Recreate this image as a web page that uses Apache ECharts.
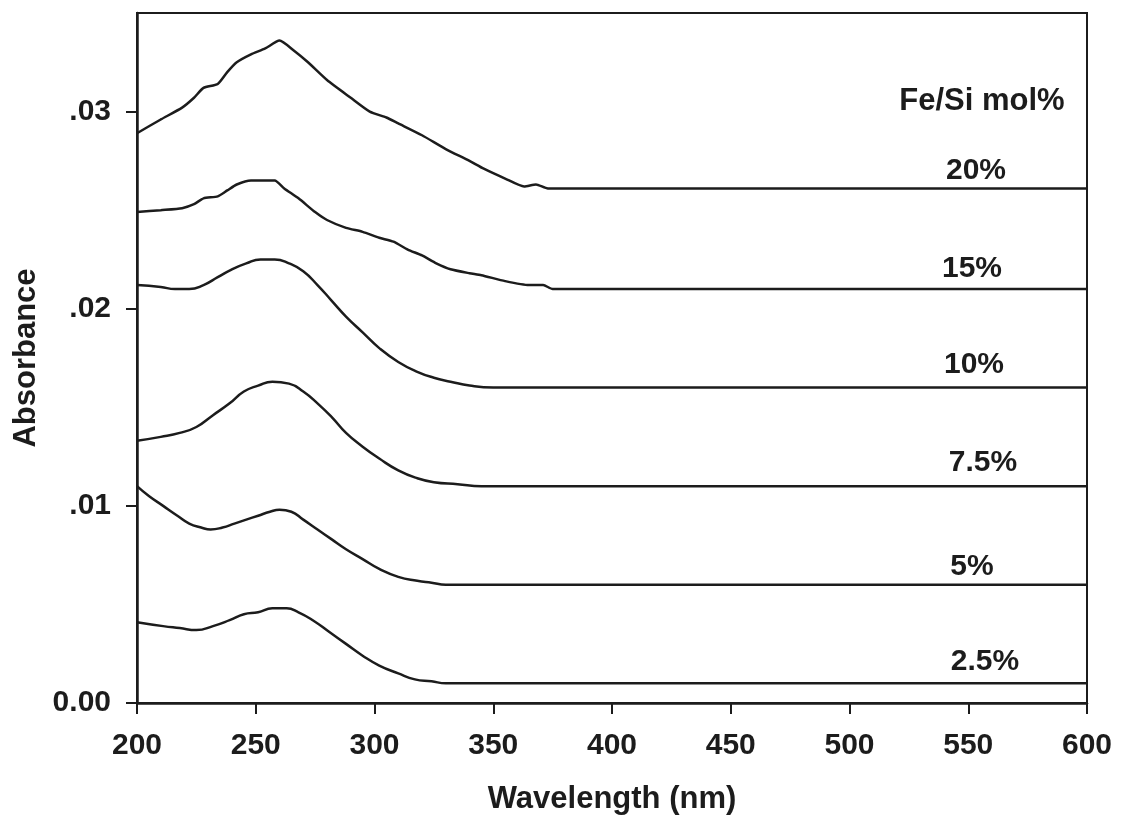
<!DOCTYPE html>
<html>
<head>
<meta charset="utf-8">
<script src="https://cdn.jsdelivr.net/npm/echarts@6/dist/echarts.min.js"></script>
<style>
  html, body { margin: 0; padding: 0; background: #fff; }
  #spectraChart { width: 1121px; height: 822px; }
</style>
</head>
<body>
<div id="spectraChart"></div>
<script>
// UV-Vis spectra, Fe/Si mol%
const wl20 = [200, 210, 219, 224, 228, 234, 238, 242, 248, 254, 260, 266, 272, 280, 290, 298, 305, 310, 320, 330, 340, 346, 355, 363, 368, 373, 600];
const abs20 = [0.0289, 0.0296, 0.0302, 0.0307, 0.0312, 0.0314, 0.0320, 0.0325, 0.0329, 0.0332, 0.0336, 0.0331, 0.0325, 0.0316, 0.0307, 0.0300, 0.0297, 0.0294, 0.0288, 0.0281, 0.0275, 0.0271, 0.0266, 0.0262, 0.0263, 0.0261, 0.0261];

const wl15 = [200, 210, 219, 224, 228, 234, 238, 242, 248, 254, 258, 262, 268, 275, 280, 288, 295, 302, 308, 314, 320, 326, 332, 340, 345, 355, 365, 371, 375, 600];
const abs15 = [0.0249, 0.0250, 0.0251, 0.0253, 0.0256, 0.0257, 0.0260, 0.0263, 0.0265, 0.0265, 0.0265, 0.0261, 0.0256, 0.0249, 0.0245, 0.0241, 0.0239, 0.0236, 0.0234, 0.0230, 0.0227, 0.0223, 0.0220, 0.0218, 0.0217, 0.0214, 0.0212, 0.0212, 0.0210, 0.0210];

const wl10 = [200, 210, 216, 222, 228, 234, 240, 246, 252, 258, 264, 270, 276, 282, 288, 295, 302, 310, 318, 325, 332, 340, 350, 360, 600];
const abs10 = [0.0212, 0.0211, 0.0210, 0.0210, 0.0212, 0.0216, 0.0220, 0.0223, 0.0225, 0.0225, 0.0223, 0.0219, 0.0212, 0.0204, 0.0196, 0.0188, 0.0180, 0.0173, 0.0168, 0.0165, 0.0163, 0.0161, 0.0160, 0.0160, 0.0160];

const wl75 = [200, 210, 218, 225, 232, 239, 245, 251, 257, 264, 270, 276, 282, 288, 295, 302, 310, 318, 325, 335, 345, 600];
const abs75 = [0.0133, 0.0135, 0.0137, 0.0140, 0.0146, 0.0152, 0.0158, 0.0161, 0.0163, 0.0162, 0.0158, 0.0152, 0.0145, 0.0137, 0.0130, 0.0124, 0.0118, 0.0114, 0.0112, 0.0111, 0.0110, 0.0110];

const wl5 = [200, 205, 211, 217, 222, 227, 231, 236, 241, 246, 251, 256, 260, 265, 270, 276, 282, 288, 295, 302, 310, 318, 324, 330, 600];
const abs5 = [0.0110, 0.0105, 0.0100, 0.0095, 0.0091, 0.0089, 0.0088, 0.0089, 0.0091, 0.0093, 0.0095, 0.0097, 0.0098, 0.0097, 0.0093, 0.0088, 0.0083, 0.0078, 0.0073, 0.0068, 0.0064, 0.0062, 0.0061, 0.0060, 0.0060];

const wl25 = [200, 211, 218, 225, 232, 239, 245, 251, 257, 263, 268, 274, 281, 288, 295, 302, 310, 317, 324, 330, 336, 600];
const abs25 = [0.0041, 0.0039, 0.0038, 0.0037, 0.0039, 0.0042, 0.0045, 0.0046, 0.0048, 0.0048, 0.0046, 0.0042, 0.0036, 0.0030, 0.0024, 0.0019, 0.0015, 0.0012, 0.0011, 0.0010, 0.0010, 0.0010];

const seriesNames = ['20%', '15%', '10%', '7.5%', '5%', '2.5%'];
const xTicks = [200, 250, 300, 350, 400, 450, 500, 550, 600];
const yTicks = [0, 0.01, 0.02, 0.03];

const curves = [
  [wl20, abs20, 0.2],
  [wl15, abs15, 0.2],
  [wl10, abs10, 0.5],
  [wl75, abs75, 0.5],
  [wl5, abs5, 0.5],
  [wl25, abs25, 0.5],
];

const font = 'bold {s}px "Liberation Sans", Arial, sans-serif';
const ink = '#1c1c1c';

let chart = echarts.init(document.getElementById('spectraChart'));

let series = curves.map((c, i) => ({
  name: seriesNames[i],
  type: 'line',
  showSymbol: false,
  smooth: c[2],
  lineStyle: { color: ink, width: 2.5 },
  data: c[0].map((x, k) => [x, c[1][k]]),
}));

// labels at right side of the plot
const labelPos = [
  [976, 171], [972, 269], [974, 365], [983, 463], [972, 567], [985, 662],
];
let labels = seriesNames.map((n, i) => ({
  type: 'text',
  x: labelPos[i][0],
  y: labelPos[i][1],
  style: { text: n, font: font.replace('{s}', 30), fill: ink, align: 'center', verticalAlign: 'middle' },
}));
labels.push({
  type: 'text',
  x: 982,
  y: 101,
  style: { text: 'Fe/Si mol%', font: font.replace('{s}', 31), fill: ink, align: 'center', verticalAlign: 'middle' },
});

let options = {
  animation: false,
  backgroundColor: '#fff',
  grid: {
    left: 137, right: 34, top: 13, bottom: 119,
    show: true, borderColor: ink, borderWidth: 2,
  },
  xAxis: {
    type: 'value',
    min: 200, max: 600, interval: 50,
    name: 'Wavelength (nm)',
    nameLocation: 'middle',
    nameGap: 81,
    nameTextStyle: { fontFamily: 'Liberation Sans', fontWeight: 'bold', fontSize: 31, color: ink },
    axisLine: { lineStyle: { color: ink, width: 2.5 } },
    axisTick: { show: true, length: 11, lineStyle: { color: ink, width: 2 }, customValues: xTicks },
    axisLabel: {
      customValues: xTicks,
      margin: 28,
      fontFamily: 'Liberation Sans', fontWeight: 'bold', fontSize: 30, color: ink,
    },
    splitLine: { show: false },
  },
  yAxis: {
    type: 'value',
    min: 0, max: 0.035,
    name: 'Absorbance',
    nameLocation: 'middle',
    nameGap: 94,
    nameTextStyle: { fontFamily: 'Liberation Sans', fontWeight: 'bold', fontSize: 31, color: ink },
    axisLine: { show: true, lineStyle: { color: ink, width: 2.5 } },
    axisTick: { show: true, length: 11, lineStyle: { color: ink, width: 2 }, customValues: yTicks },
    axisLabel: {
      customValues: yTicks,
      margin: 26,
      fontFamily: 'Liberation Sans', fontWeight: 'bold', fontSize: 30, color: ink,
      formatter: (v) => (v === 0 ? '0.00' : v.toFixed(2).replace(/^0/, '')),
    },
    splitLine: { show: false },
  },
  graphic: labels,
  series: series,
};

chart.setOption(options);
</script>
</body>
</html>
